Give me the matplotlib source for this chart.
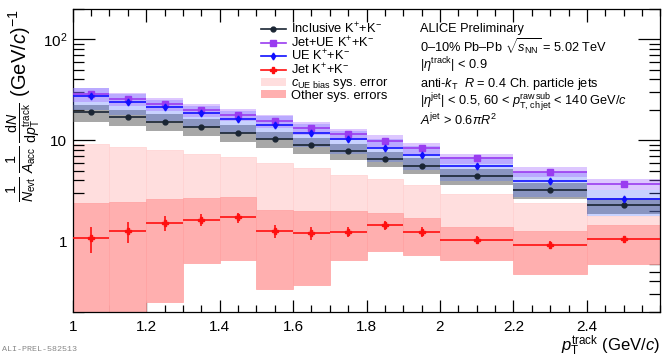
import matplotlib
matplotlib.use("Agg")
import matplotlib.pyplot as plt
from matplotlib.patches import Patch
from matplotlib.lines import Line2D
from matplotlib.ticker import FixedLocator, MultipleLocator, NullFormatter

plt.rcParams['font.family'] = ['Liberation Sans', 'DejaVu Sans']
plt.rcParams['mathtext.fontset'] = 'custom'
plt.rcParams['mathtext.rm'] = 'Liberation Sans'
plt.rcParams['mathtext.it'] = 'Liberation Sans:italic'
plt.rcParams['mathtext.bf'] = 'Liberation Sans:bold'

# pT bins (GeV/c)
bin_lo = [1.0, 1.1, 1.2, 1.3, 1.4, 1.5, 1.6, 1.7, 1.8, 1.9, 2.0, 2.2, 2.4]
bin_hi = [1.1, 1.2, 1.3, 1.4, 1.5, 1.6, 1.7, 1.8, 1.9, 2.0, 2.2, 2.4, 2.6]

inclusive = [18.9, 16.9, 15.2, 13.5, 11.9, 10.3, 8.93, 7.73, 6.55, 5.61, 4.40, 3.19, 2.29]
jet_ue = [28.6, 25.4, 22.8, 20.0, 17.9, 15.5, 13.2, 11.5, 9.87, 8.34, 6.59, 4.86, 3.66]
ue = [27.2, 24.1, 21.1, 18.4, 16.1, 14.2, 11.9, 10.2, 8.41, 7.17, 5.57, 3.96, 2.62]
jet = [1.07, 1.25, 1.51, 1.62, 1.72, 1.26, 1.21, 1.24, 1.43, 1.23, 1.03, 0.92, 1.04]

# statistical errors
inclusive_stat = [0.2, 0.2, 0.2, 0.15, 0.15, 0.12, 0.1, 0.1, 0.08, 0.07, 0.05, 0.04, 0.04]
jet_ue_stat = [0.5, 0.5, 0.45, 0.4, 0.35, 0.3, 0.3, 0.25, 0.2, 0.18, 0.14, 0.1, 0.08]
ue_stat = [1.0, 0.9, 0.8, 0.7, 0.6, 0.5, 0.45, 0.4, 0.35, 0.3, 0.2, 0.15, 0.12]
jet_stat = [0.30, 0.29, 0.25, 0.22, 0.20, 0.19, 0.18, 0.15, 0.15, 0.14, 0.09, 0.09, 0.09]

# relative systematic errors of the upper spectra
inclusive_sys = [0.19, 0.19, 0.19, 0.19, 0.19, 0.18, 0.18, 0.18, 0.18, 0.18, 0.18, 0.18, 0.18]
jet_ue_sys = [0.16, 0.15, 0.15, 0.15, 0.14, 0.14, 0.14, 0.13, 0.13, 0.13, 0.12, 0.12, 0.12]
ue_sys_up = [0.20, 0.20, 0.20, 0.20, 0.20, 0.21, 0.21, 0.21, 0.22, 0.22, 0.22, 0.23, 0.23]
ue_sys_dn = [0.26, 0.26, 0.26, 0.27, 0.27, 0.27, 0.28, 0.28, 0.28, 0.29, 0.30, 0.31, 0.32]

# jet spectrum systematic boxes (absolute edges)
cue_hi = [9.07, 8.53, 8.04, 7.22, 6.79, 5.92, 5.33, 4.57, 4.14, 3.56, 2.94, 2.40, 1.79]
other_hi = [2.37, 2.43, 2.62, 2.68, 2.72, 2.04, 2.01, 1.98, 1.89, 1.70, 1.39, 1.27, 1.43]
other_lo = [0.15, 0.15, 0.251, 0.607, 0.651, 0.336, 0.367, 0.651, 0.792, 0.730, 0.655, 0.472, 0.60]

xc = [(a + b) / 2 for a, b in zip(bin_lo, bin_hi)]
xw = [b - a for a, b in zip(bin_lo, bin_hi)]
xe = [w / 2 for w in xw]

fig = plt.figure(figsize=(6.67, 3.57), dpi=100)
ax = fig.add_axes([0.109, 0.127, 0.881, 0.848])
ax.set_yscale('log')

# jet boxes
ax.bar(bin_lo, [h - v for h, v in zip(cue_hi, jet)], bottom=jet, width=xw, align='edge',
       color='#ffdede', edgecolor='#ffd0d0', linewidth=0.5, zorder=1)
ax.bar(bin_lo, [h - l for h, l in zip(other_hi, other_lo)], bottom=other_lo, width=xw, align='edge',
       color='#ffafaf', edgecolor='#ffa0a0', linewidth=0.5, zorder=2)

# upper spectra boxes
lo = [v * (1 - s) for v, s in zip(inclusive, inclusive_sys)]
hi = [v * (1 + s) for v, s in zip(inclusive, inclusive_sys)]
ax.bar(bin_lo, [h - l for h, l in zip(hi, lo)], bottom=lo, width=xw, align='edge',
       color='#505050', alpha=0.5, linewidth=0, zorder=3)
lo = [v * (1 - s) for v, s in zip(ue, ue_sys_dn)]
hi = [v * (1 + s) for v, s in zip(ue, ue_sys_up)]
ax.bar(bin_lo, [h - l for h, l in zip(hi, lo)], bottom=lo, width=xw, align='edge',
       color='#4a6cff', alpha=0.3, linewidth=0, zorder=4)
lo = [v * (1 - s) for v, s in zip(jet_ue, jet_ue_sys)]
hi = [v * (1 + s) for v, s in zip(jet_ue, jet_ue_sys)]
ax.bar(bin_lo, [h - l for h, l in zip(hi, lo)], bottom=lo, width=xw, align='edge',
       color='#a060ff', alpha=0.35, linewidth=0, zorder=5)

# data points
ax.errorbar(xc, inclusive, xerr=xe, yerr=inclusive_stat, fmt='o', color='#1a2533', ms=3.5,
            elinewidth=1.2, capsize=0, zorder=8)
ax.errorbar(xc, jet_ue, xerr=xe, yerr=jet_ue_stat, fmt='s', color='#9a3cf0', ms=4,
            elinewidth=1.2, capsize=0, zorder=7)
ax.errorbar(xc, ue, xerr=xe, yerr=ue_stat, fmt='d', color='#1010ff', ms=3.5,
            elinewidth=1.2, capsize=0, zorder=9)
ax.errorbar(xc, jet, xerr=xe, yerr=jet_stat, fmt='P', color='#ff1010', ms=4,
            elinewidth=1.2, capsize=0, zorder=9)

ax.set_xlim(1.0, 2.6)
ax.set_ylim(0.2, 200)

ax.xaxis.set_major_locator(FixedLocator([1.0, 1.2, 1.4, 1.6, 1.8, 2.0, 2.2, 2.4]))
ax.set_xticklabels(['1', '1.2', '1.4', '1.6', '1.8', '2', '2.2', '2.4'])
ax.xaxis.set_minor_locator(MultipleLocator(0.05))
ax.yaxis.set_major_locator(FixedLocator([1, 10, 100]))
ax.set_yticklabels(['1', '10', '10$^{2}$'])
ax.yaxis.set_minor_locator(FixedLocator([0.2, 0.3, 0.4, 0.5, 0.6, 0.7, 0.8, 0.9,
                                         2, 3, 4, 5, 6, 7, 8, 9,
                                         20, 30, 40, 50, 60, 70, 80, 90, 200]))
ax.yaxis.set_minor_formatter(NullFormatter())
ax.tick_params(which='both', direction='in', top=True, right=True, labelsize=11, width=0.9)
ax.tick_params(axis='x', which='major', length=9, pad=6)
ax.tick_params(axis='x', which='minor', length=5)
ax.tick_params(axis='y', which='major', length=16, pad=4)
ax.tick_params(axis='y', which='minor', length=8)
for s in ax.spines.values():
    s.set_linewidth(0.9)

ax.set_xlabel(r'$p_{\rm T}^{\rm track}$ (GeV/$c$)', fontsize=12, ha='right', x=1.0, labelpad=0)
ax.set_ylabel(r'$\frac{1}{N_{\rm evt}}\,\frac{1}{A_{\rm acc}}\,\frac{{\rm d}N}{{\rm d}p_{\rm T}^{\rm track}}$ (GeV/$c$)$^{-1}$',
              fontsize=14.5, ha='right', y=1.0, labelpad=0)

handles = [
    Line2D([], [], color='#1a2533', marker='o', ms=3.5, lw=1.2),
    Line2D([], [], color='#9a3cf0', marker='s', ms=4, lw=1.2),
    Line2D([], [], color='#1010ff', marker='d', ms=3.5, lw=1.2),
    Line2D([], [], color='#ff1010', marker='P', ms=4, lw=1.2),
    Patch(facecolor='#ffdede', edgecolor='none'),
    Patch(facecolor='#ffafaf', edgecolor='none'),
]
labels = ['Inclusive K$^{+}$+K$^{-}$', 'Jet+UE K$^{+}$+K$^{-}$', 'UE K$^{+}$+K$^{-}$',
          'Jet K$^{+}$+K$^{-}$', r'$c_{\rm UE\ bias}$ sys. error', 'Other sys. errors']
ax.legend(handles, labels, loc='upper left', bbox_to_anchor=(0.305, 0.99), frameon=False,
          fontsize=9.3, handlelength=1.9, handleheight=0.6, handletextpad=0.4,
          labelspacing=-0.1, borderpad=0.2)

info = ['ALICE Preliminary',
        r'0–10% Pb–Pb $\sqrt{s_{\rm NN}}$ = 5.02 TeV',
        r'|$\eta^{\rm track}$| < 0.9',
        r'anti-$k_{\rm T}$  $R$ = 0.4 Ch. particle jets',
        r'|$\eta^{\rm jet}$| < 0.5, 60 < $p_{\rm T,\,ch\,jet}^{\rm raw\,sub}$ < 140 GeV/$c$',
        r'$A^{\rm jet}$ > 0.6$\pi R^{2}$']
for i, t in enumerate(info):
    fig.text(420 / 667, 1 - (29 + i * 18.2) / 357, t, fontsize=9.2, va='center', ha='left')

fig.text(0.003, 0.012, 'ALI-PREL-582513', fontsize=6, color='#888888',
         family='Liberation Mono', va='bottom')

fig.savefig('out.png', dpi=100)
